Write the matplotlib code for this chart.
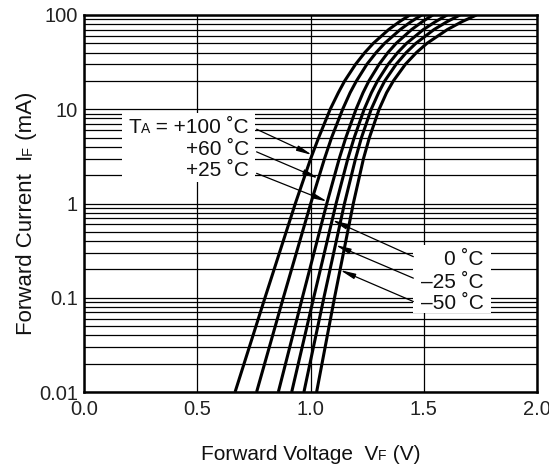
import numpy as np
import matplotlib
matplotlib.use("Agg")
import matplotlib.pyplot as plt
from matplotlib.ticker import FixedLocator, LogLocator, NullFormatter, FixedFormatter
from matplotlib.transforms import IdentityTransform
from matplotlib.patches import Rectangle

FONT = ["Liberation Sans", "DejaVu Sans"]
plt.rcParams['font.family'] = FONT

# ---- data ----
current_mA = [0.01, 0.1, 1, 3, 5, 10, 15, 20, 30, 40, 50, 70, 85, 100]
temps = ["+100", "+60", "+25", "0", "–25", "–50"]
vf_p100 = [0.667, 0.799, 0.933, 1.001, 1.036, 1.087, 1.123, 1.151, 1.199, 1.240, 1.277, 1.345, 1.393, 1.439]
vf_p60  = [0.762, 0.880, 1.001, 1.062, 1.093, 1.142, 1.175, 1.203, 1.249, 1.290, 1.327, 1.396, 1.444, 1.491]
vf_p25  = [0.858, 0.964, 1.072, 1.127, 1.156, 1.201, 1.232, 1.258, 1.303, 1.342, 1.378, 1.446, 1.494, 1.540]
vf_0    = [0.917, 1.014, 1.113, 1.165, 1.193, 1.237, 1.269, 1.296, 1.343, 1.385, 1.424, 1.498, 1.552, 1.603]
vf_m25  = [0.971, 1.059, 1.150, 1.199, 1.225, 1.268, 1.301, 1.328, 1.378, 1.423, 1.465, 1.545, 1.603, 1.660]
vf_m50  = [1.027, 1.106, 1.189, 1.234, 1.260, 1.303, 1.336, 1.366, 1.419, 1.468, 1.514, 1.604, 1.669, 1.733]
curves = [vf_p100, vf_p60, vf_p25, vf_0, vf_m25, vf_m50]
# current where each label's arrow touches its curve
arrow_current = [3.27, 1.85, 1.05, 0.668, 0.363, 0.197]

xticks = [0.0, 0.5, 1.0, 1.5, 2.0]
xticklabels = ["0.0", "0.5", "1.0", "1.5", "2.0"]
yticks = [0.01, 0.1, 1, 10, 100]
yticklabels = ["0.01", "0.1", "1", "10", "100"]

W, H = 549, 468
fig = plt.figure(figsize=(W / 100, H / 100), dpi=100)
L, R, T, B = 84, 537, 15, 392
ax = fig.add_axes([L / W, (H - B) / H, (R - L) / W, (B - T) / H])

for v in curves:
    ax.plot(v, current_mA, color="black", lw=2.2, solid_capstyle="butt", zorder=4)

ax.set_yscale("log")
ax.set_xlim(0, 2.0)
ax.set_ylim(0.01, 100)
ax.xaxis.set_major_locator(FixedLocator(xticks))
ax.xaxis.set_major_formatter(FixedFormatter(xticklabels))
ax.yaxis.set_major_locator(FixedLocator(yticks))
ax.yaxis.set_major_formatter(FixedFormatter(yticklabels))
ax.yaxis.set_minor_locator(LogLocator(base=10, subs=np.arange(2, 10)))
ax.yaxis.set_minor_formatter(NullFormatter())
ax.grid(which="major", axis="both", color="black", lw=0.9)
ax.grid(which="minor", axis="y", color="black", lw=0.9)
ax.set_axisbelow(True)
ax.tick_params(which="both", length=0, labelsize=14.5, labelcolor="#222222")
ax.tick_params(axis="x", pad=5.5)
ax.tick_params(axis="y", pad=4.5)
for s in ax.spines.values():
    s.set_linewidth(1.8)

# white label boxes
ax.add_patch(Rectangle((0.084, 0.557), 0.293, 0.183, transform=ax.transAxes,
                       facecolor="white", edgecolor="none", zorder=2))
ax.add_patch(Rectangle((0.726, 0.21), 0.172, 0.18, transform=ax.transAxes,
                       facecolor="white", edgecolor="none", zorder=2))

renderer = fig.canvas.get_renderer()


def rich(x, y, pieces, ha="left", rotation=0, zorder=5):
    """pieces: list of (string, fontsize); x, y in display px, baseline."""
    widths = []
    for s, size in pieces:
        t = fig.text(0, 0, s, fontsize=size, family=FONT)
        widths.append(t.get_window_extent(renderer).width)
        t.remove()
    total = sum(widths)
    off = {"left": 0, "center": -total / 2, "right": -total}[ha]
    cum = off
    for (s, size), w in zip(pieces, widths):
        if rotation == 0:
            px, py = x + cum, y
        else:
            px, py = x, y + cum
        fig.text(px, py, s, fontsize=size, family=FONT, transform=IdentityTransform(),
                 ha="left", va="baseline", rotation=rotation, rotation_mode="anchor",
                 zorder=zorder, color="#111111")
        cum += w


FS = 15
SM = 10
# axis labels
rich((L + R) / 2, H - 460, [("Forward Voltage  V", 15), ("F", 10), (" (V)", 15)], ha="center")
rich(32, H - 213, [("Forward Current  I", 16), ("F", 10.5), (" (mA)", 16)], ha="center", rotation=90)

# temperature labels
rich(249, H - 133, [("T", FS), ("A", SM), (" = +100 ˚C", FS)], ha="right")
rich(249, H - 155, [("+60 ˚C", FS)], ha="right")
rich(249, H - 176, [("+25 ˚C", FS)], ha="right")
rich(484, H - 265, [("0 ˚C", FS)], ha="right")
rich(484, H - 288, [("–25 ˚C", FS)], ha="right")
rich(484, H - 309, [("–50 ˚C", FS)], ha="right")

starts = [(0.381, 0.697), (0.381, 0.637), (0.381, 0.580),
          (0.727, 0.359), (0.727, 0.302), (0.727, 0.240)]
logI = np.log10(current_mA)
for v, ic, st in zip(curves, arrow_current, starts):
    tip_v = np.interp(np.log10(ic), logI, v)
    ax.annotate("", xy=(tip_v, ic), xycoords="data", xytext=st, textcoords="axes fraction",
                arrowprops=dict(arrowstyle="-|>,head_length=0.9,head_width=0.16",
                                color="black", lw=0.9, shrinkA=0, shrinkB=0),
                zorder=5)

fig.savefig("out.png", dpi=100)
